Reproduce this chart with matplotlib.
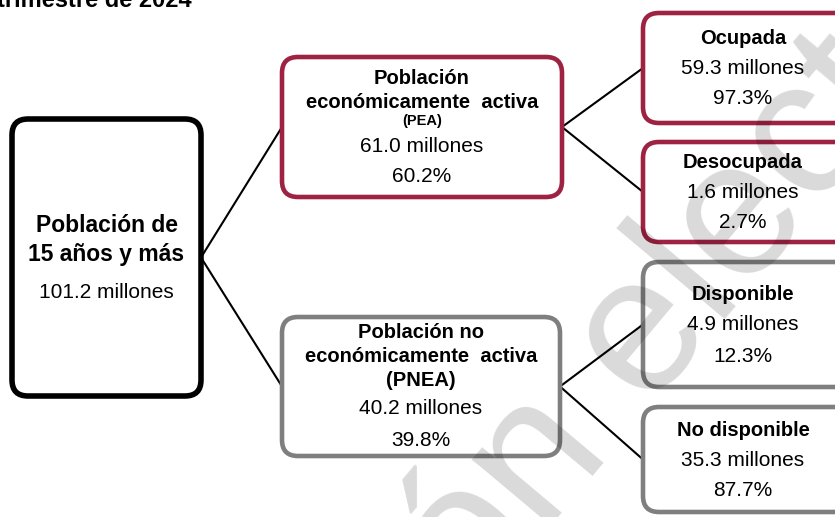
import matplotlib
matplotlib.use("Agg")
import matplotlib.pyplot as plt
from matplotlib.patches import FancyBboxPatch

plt.rcParams["font.family"] = ["Liberation Sans", "DejaVu Sans"]

# data
NODES = ["root", "pea", "pnea", "ocup", "desocup", "disp", "nodisp"]
TITLES = [
    ["Población de", "15 años y más"],
    ["Población", "económicamente  activa"],
    ["Población no", "económicamente  activa", "(PNEA)"],
    ["Ocupada"],
    ["Desocupada"],
    ["Disponible"],
    ["No disponible"],
]
MILLONES = [101.2, 61.0, 40.2, 59.3, 1.6, 4.9, 35.3]
PCT = [None, 60.2, 39.8, 97.3, 2.7, 12.3, 87.7]
EDGES = [("root", "pea"), ("root", "pnea"), ("pea", "ocup"), ("pea", "desocup"),
         ("pnea", "disp"), ("pnea", "nodisp")]

# layout in pixel coords: left, top, right, bottom
BOX = {
    "root": (12, 119, 201, 396),
    "pea": (282, 57, 562, 197),
    "pnea": (282, 317, 560, 456),
    "ocup": (643, 13, 850, 123),
    "desocup": (643, 142, 850, 242),
    "disp": (643, 262, 850, 387),
    "nodisp": (643, 407, 850, 512),
}
TEXT_Y = {
    "root": [225, 255, 293],
    "pea": [79, 102, 121, 146, 176],
    "pnea": [333, 357, 380, 408, 440],
    "ocup": [38, 68, 98],
    "desocup": [162, 192, 223],
    "disp": [295, 325, 356],
    "nodisp": [430, 460, 490],
}
RED = "#9E2242"
GRAY = "#7F7F7F"
EDGE_COLOR = {"root": "black", "pea": RED, "ocup": RED, "desocup": RED,
              "pnea": GRAY, "disp": GRAY, "nodisp": GRAY}

W, H = 835, 517
fig = plt.figure(figsize=(W / 100, H / 100), dpi=100)
ax = fig.add_axes([0, 0, 1, 1])
ax.set_xlim(0, W)
ax.set_ylim(H, 0)
ax.axis("off")

# connectors
for a, b in EDGES:
    la, ta, ra, ba = BOX[a]
    lb, tb, rb, bb = BOX[b]
    ax.plot([ra, lb], [(ta + ba) / 2, (tb + bb) / 2], color="black", lw=1.5, zorder=1)

# boxes + text
for i, key in enumerate(NODES):
    l, t, r, b = BOX[key]
    lw = 4.0 if key == "root" else 3.3
    ax.add_patch(FancyBboxPatch((l, t), r - l, b - t,
                                boxstyle="round,pad=0,rounding_size=16",
                                fc="white", ec=EDGE_COLOR[key], lw=lw, zorder=2))
    cx = 743 if key in ("ocup", "desocup", "disp", "nodisp") else (l + r) / 2
    ys = TEXT_Y[key]
    lines = list(TITLES[i])
    if key == "pea":
        ax.text(cx, ys[0], lines[0], ha="center", va="center", fontsize=14.5, fontweight="bold", zorder=4)
        ax.text(cx, ys[1], lines[1], ha="center", va="center", fontsize=14.5, fontweight="bold", zorder=4)
        ax.text(cx, ys[2], "(PEA)", ha="center", va="center", fontsize=10.5, fontweight="bold", zorder=4)
        k = 3
    else:
        fs_b = 16.5 if key == "root" else 14.5
        for j, s in enumerate(lines):
            ax.text(cx, ys[j], s, ha="center", va="center", fontsize=fs_b, fontweight="bold", zorder=4)
        k = len(lines)
    ax.text(cx, ys[k], f"{MILLONES[i]:.1f} millones", ha="center", va="center", fontsize=15, zorder=4)
    if PCT[i] is not None:
        ax.text(cx, ys[k + 1], f"{PCT[i]:.1f}%", ha="center", va="center", fontsize=15, zorder=4)

# clipped header
ax.text(-3, 7, "trimestre de 2024", ha="left", va="baseline", fontsize=17, fontweight="bold", zorder=4)

# watermark
ax.text(195, 950, "Versión electrónica", ha="left", va="baseline", rotation=50, rotation_mode="anchor",
        fontsize=140, color="black", alpha=0.15, zorder=3)

fig.savefig("out.png", dpi=100)
